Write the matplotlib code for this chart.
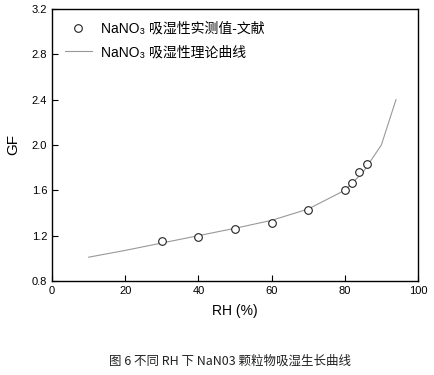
import matplotlib
matplotlib.use('Agg')
import matplotlib.pyplot as plt

plt.rcParams['font.family'] = ['Liberation Sans', 'Noto Sans CJK SC', 'DejaVu Sans']

# measured points (literature)
rh_meas = [30, 40, 50, 60, 70, 80, 82, 84, 86]
gf_meas = [1.153, 1.188, 1.256, 1.315, 1.43, 1.606, 1.662, 1.759, 1.83]

# theoretical curve
rh_theo = [10, 20, 30, 40, 50, 60, 70, 80, 85, 90, 94]
gf_theo = [1.01, 1.07, 1.135, 1.20, 1.265, 1.335, 1.435, 1.60, 1.76, 2.0, 2.40]

fig = plt.figure(figsize=(4.34, 3.75), dpi=100)
ax = fig.add_axes([0.12, 0.2507, 0.843, 0.7253])

ax.plot(rh_meas, gf_meas, 'o', mfc='white', mec='#222222', ms=5.5, mew=0.8,
        label='NaNO\u2083 吸湿性实测值-文献', zorder=3)
ax.plot(rh_theo, gf_theo, '-', color='#999999', lw=0.8,
        label='NaNO\u2083 吸湿性理论曲线')

ax.set_xlim(0, 100)
ax.set_ylim(0.8, 3.2)
ax.set_xticks([0, 20, 40, 60, 80, 100])
ax.set_yticks([0.8, 1.2, 1.6, 2.0, 2.4, 2.8, 3.2])
ax.set_yticklabels(['0.8', '1.2', '1.6', '2.0', '2.4', '2.8', '3.2'])
ax.tick_params(direction='in', labelsize=8, length=4, width=0.8)
for s in ax.spines.values():
    s.set_linewidth(1.0)
ax.set_xlabel('RH (%)', fontsize=10, labelpad=6)
ax.set_ylabel('GF', fontsize=11, labelpad=8)

ax.legend(loc='upper left', frameon=False, fontsize=10, handlelength=2.0,
          borderaxespad=0.5, handletextpad=0.6, labelspacing=0.7)

fig.text(0.53, 0.027, '图 6 不同 RH 下 NaN03 颗粒物吸湿生长曲线', ha='center',
         fontsize=9, family=['Noto Sans CJK SC', 'DejaVu Sans'], color='#222222')

fig.savefig('out.png', dpi=100)
